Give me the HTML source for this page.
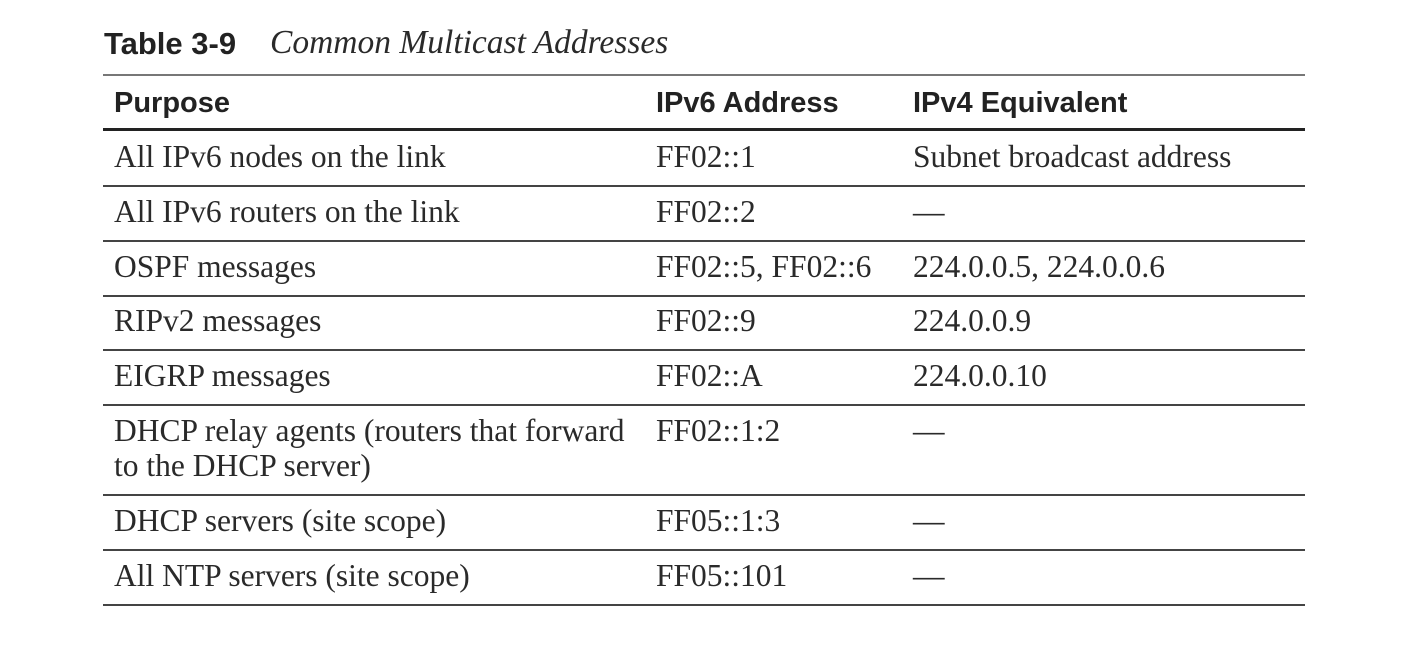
<!DOCTYPE html>
<html><head><meta charset="utf-8"><style>
body{margin:0;width:1403px;height:654px;background:#fff;position:relative;overflow:hidden;color:#222}
.a{position:absolute;white-space:nowrap;line-height:1}
.s{font-family:"Liberation Sans",sans-serif;font-weight:bold;font-size:29px}
.r{font-family:"Liberation Serif",serif;font-size:31.5px;color:#2a2a2a}
.l{position:absolute;left:103px;width:1202px;background:#333}
</style></head><body>
<div class="a s" style="left:104px;top:28px;font-size:31px">Table 3-9</div>
<div class="a r" style="left:270px;top:26px;font-style:italic;font-size:33.5px">Common Multicast Addresses</div>
<div class="l" style="top:74px;height:2px;background:#777"></div>
<div class="a s" style="left:114px;top:89px">Purpose</div>
<div class="a s" style="left:656px;top:89px">IPv6 Address</div>
<div class="a s" style="left:913px;top:89px">IPv4 Equivalent</div>
<div class="l" style="top:128px;height:3px;background:#222"></div>
<div id="rows"></div>
<script>
const purposes=["All IPv6 nodes on the link","All IPv6 routers on the link","OSPF messages","RIPv2 messages","EIGRP messages","DHCP relay agents (routers that forward|to the DHCP server)","DHCP servers (site scope)","All NTP servers (site scope)"];
const ipv6=["FF02::1","FF02::2","FF02::5, FF02::6","FF02::9","FF02::A","FF02::1:2","FF05::1:3","FF05::101"];
const ipv4=["Subnet broadcast address","—","224.0.0.5, 224.0.0.6","224.0.0.9","224.0.0.10","—","—","—"];
const tops=[141,196,251,305,360,415,505,560];
const lines=[185,240,295,349,404,494,549,604];
const root=document.getElementById('rows');
function cell(x,y,t,n){const d=document.createElement('div');d.className='a r';d.style.left=x+'px';d.style.top=y+'px';d.textContent=t;


root.appendChild(d);}
purposes.forEach((p,i)=>{
 p.split('|').forEach((t,j)=>cell(114,tops[i]+j*35,t,'purpose-cell'));
 cell(656,tops[i],ipv6[i],'ipv6-cell');
 cell(913,tops[i],ipv4[i],'ipv4-cell');
 const l=document.createElement('div');l.className='l';l.style.top=lines[i]+'px';l.style.height='2px';l.style.background='#444';
 
 
 root.appendChild(l);
});
</script>
</body></html>
